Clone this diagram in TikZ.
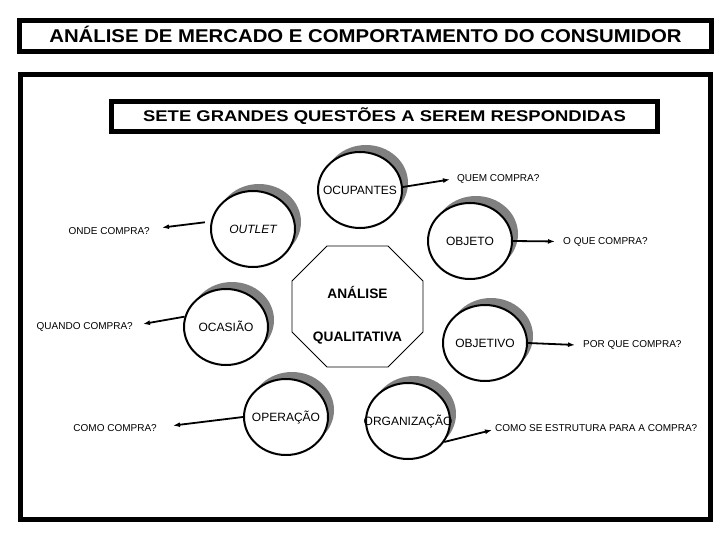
\documentclass[tikz,border=0pt]{standalone}
\usepackage{fontspec}
\setmainfont{Liberation Sans}
\usetikzlibrary{shapes.geometric,shadows,arrows.meta}
\definecolor{shadowgray}{RGB}{128,128,128}
\newcommand{\ctxt}[1]{\makebox[0pt]{\vphantom{A}\smash{#1}}}
\newcommand{\fsz}[1]{\fontsize{#1}{#1}\selectfont}
\begin{document}
\begin{tikzpicture}[x=1pt,y=-1pt,
  circ/.style={ellipse, draw, line width=2pt, fill=white, minimum width=84pt,
    minimum height=76pt, inner sep=0pt, font=\fsz{12},
    drop shadow={shadow xshift=6pt, shadow yshift=7pt, fill=shadowgray, opacity=1}},
  lbl/.style={inner sep=0pt, font=\fsz{10}, anchor=base west},
  lblr/.style={inner sep=0pt, font=\fsz{10}, anchor=base east},
  arr/.style={line width=1.8pt, -{Latex[length=7pt,width=5pt]}},
  hbox/.style={draw, inner sep=0pt, font=\bfseries},
  octtxt/.style={inner sep=0pt, font=\bfseries\fsz{13.7}, anchor=base}]
\useasboundingbox (0,0) rectangle (720,540);
% title and frames
\node[hbox, line width=5pt, minimum width=692pt, minimum height=31pt, font=\bfseries\fsz{18.5}]
  (title) at (365.5,36) {\scalebox{1.1}[1]{\vphantom{A}\smash{ANÁLISE DE MERCADO E COMPORTAMENTO DO CONSUMIDOR}}};
\node[draw, line width=4.5pt, minimum width=690pt, minimum height=445pt, inner sep=0pt]
  (frame) at (365.5,297) {};
\node[hbox, line width=4.5pt, minimum width=546pt, minimum height=30pt, font=\bfseries\fsz{15.5}]
  (sub) at (384.5,116.5) {\scalebox{1.19}[1]{\vphantom{A}\smash{SETE GRANDES QUESTÕES A SEREM RESPONDIDAS}}};
% octagon
\draw[line width=0.9pt] (327,246) -- (388,246) -- (423,281) -- (423,332) -- (388,367)
  -- (327,367) -- (292,332) -- (292,281) -- cycle;
\node[octtxt] (analise) at (357.5,298) {ANÁLISE};
\node[octtxt] (qualit) at (357.5,341) {QUALITATIVA};
% circles
\node[circ] (ocup) at (360,190) {\ctxt{OCUPANTES}};
\node[circ] (objeto) at (470,241) {\ctxt{OBJETO}};
\node[circ] (outlet) at (253,229) {\ctxt{\itshape OUTLET}};
\node[circ] (ocasiao) at (226,327) {\ctxt{OCASIÃO}};
\node[circ] (operacao) at (286,417) {\ctxt{OPERAÇÃO}};
\node[circ] (organizacao) at (408,421) {\ctxt{ORGANIZAÇÃO}};
\node[circ] (objetivo) at (485,343) {\ctxt{OBJETIVO}};
% labels
\node[lbl] (quem) at (457,182) {QUEM COMPRA?};
\node[lbl] (oque) at (563,244) {O QUE COMPRA?};
\node[lblr] (onde) at (150,235) {ONDE COMPRA?};
\node[lblr] (quando) at (133,329.5) {QUANDO COMPRA?};
\node[lblr] (como) at (157,431) {COMO COMPRA?};
\node[lbl] (porque) at (583,347.5) {POR QUE COMPRA?};
\node[lbl] (comose) at (495,431.5) {COMO SE ESTRUTURA PARA A COMPRA?};
% arrows
\draw[arr] (ocup.4) -- ([xshift=-7pt]quem.west);
\draw[arr] (objeto.east) -- ([xshift=-8pt]oque.west);
\draw[arr, shorten <=6pt] (outlet.170) -- ([xshift=12pt,yshift=4pt]onde.east);
\draw[arr] (ocasiao.166) -- ([xshift=10pt,yshift=3pt]quando.east);
\draw[arr] (operacao.west) -- ([xshift=16pt,yshift=2pt]como.east);
\draw[arr] (organizacao.-30) -- ([xshift=-3pt,yshift=-2pt]comose.west);
\draw[arr] (objetivo.east) -- ([xshift=-8pt]porque.west);
\end{tikzpicture}
\end{document}
